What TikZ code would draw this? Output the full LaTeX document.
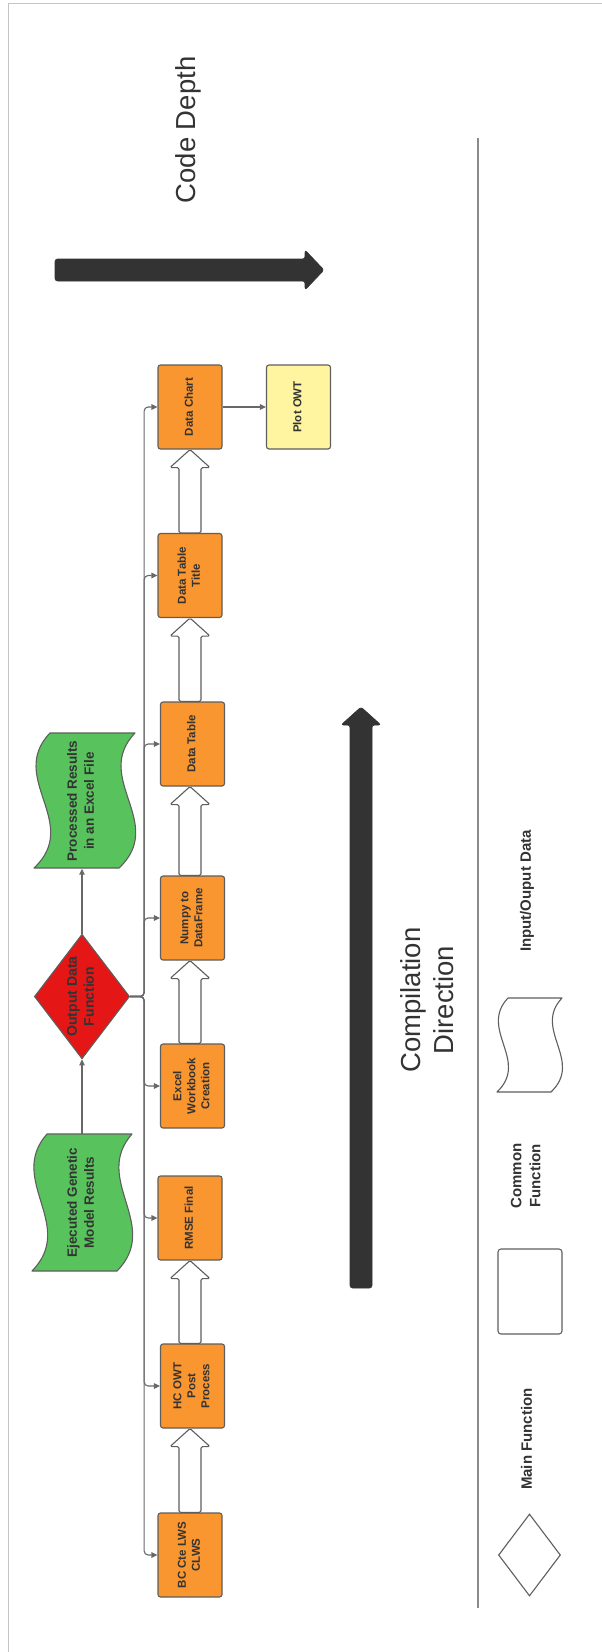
\documentclass[tikz,border=0pt]{standalone}
\usepackage{fontspec}
\setmainfont{Liberation Sans}
\usetikzlibrary{arrows.meta,shapes.geometric,calc}

\definecolor{boxorange}{HTML}{F9962F}
\definecolor{docgreen}{HTML}{58C35C}
\definecolor{fnred}{HTML}{E51616}
\definecolor{plotyellow}{HTML}{FFF5A0}
\definecolor{edge}{HTML}{5E5E5E}
\definecolor{ink}{HTML}{333333}
\definecolor{wire}{HTML}{686868}
\definecolor{framegray}{HTML}{C4C4C4}
\definecolor{rulegray}{HTML}{8A8A8A}

% vertical (bottom-to-top) multi-line label
\newcommand\vtext[1]{\rotatebox{90}{\begin{tabular}{@{}c@{}}#1\end{tabular}}}

% punched-tape outline: style, top-left x, top-left y, width, height, slant
\newcommand\tapeshape[6]{%
  \draw[#1] (#2,#3) -- ({#2+#4},#3)
    .. controls ({#2+#4-2.7*#6},{#3+#5/3}) and ({#2+#4+2*#6},{#3+2*#5/3}) .. ({#2+#4-#6},{#3+#5})
    -- ({#2-#6},{#3+#5})
    .. controls ({#2+2*#6},{#3+2*#5/3}) and ({#2-2.7*#6},{#3+#5/3}) .. (#2,#3) -- cycle;}

% hollow block arrow from the top of #1 up to the bottom of #2
\newcommand\hollowarrow[2]{%
  \path (axis |- #1.north) coordinate (lo) (axis |- #2.south) coordinate (hi);
  \draw[hollow] ([xshift=-11pt]lo) -- ([xshift=-11pt,yshift=-18pt]hi)
    -- ([xshift=-20pt,yshift=-18pt]hi) -- (hi) -- ([xshift=20pt,yshift=-18pt]hi)
    -- ([xshift=11pt,yshift=-18pt]hi) -- ([xshift=11pt]lo) -- cycle;}

\tikzset{
  fnbox/.style={draw=edge, line width=1.1pt, rounded corners=2.5pt, fill=boxorange,
    minimum width=64pt, minimum height=84pt, inner sep=0pt, text=ink,
    font=\bfseries\fontsize{11.5}{14}\selectfont},
  plotbox/.style={fnbox, fill=plotyellow},
  doctext/.style={inner sep=0pt, text=ink, font=\bfseries\fontsize{13.5}{17}\selectfont},
  docshape/.style={draw=edge, line width=1.1pt, fill=docgreen, line join=round},
  legshape/.style={draw=edge, line width=1.1pt, fill=white, line join=round},
  mainfn/.style={diamond, draw=edge, line width=1.1pt, fill=fnred, inner sep=0pt,
    aspect=0.764, minimum width=94pt, minimum height=123pt, text=ink,
    font=\bfseries\fontsize{14}{17}\selectfont},
  wire/.style={draw=wire, line width=1.1pt, rounded corners=4pt,
    -{Triangle[length=6pt,width=5.5pt]}},
  hollow/.style={draw=edge, line width=1.1pt, fill=white, rounded corners=1.5pt, line join=round},
  bigarrow/.style={fill=ink, draw=ink, line width=0.6pt, rounded corners=2.5pt},
  bigtext/.style={inner sep=0pt, text=ink, font=\fontsize{27.5}{33}\selectfont},
  legtext/.style={inner sep=0pt, text=ink, font=\bfseries\fontsize{15}{19}\selectfont},
}

\begin{document}
\begin{tikzpicture}[x=1pt,y=-1pt]
\useasboundingbox (0,0) rectangle (602,1652);

% page frame and separator rule
\draw[framegray, line width=1.8pt] (602,3.5) -- (8.5,3.5) -- (8.5,1652);
\draw[rulegray, line width=1.2pt] (478,138) -- (478,1608);

% code depth
\node[bigtext] (codedepth) at (188,130) {\rotatebox{90}{Code Depth}};
\draw[bigarrow] (55,259) -- (305,259) -- (305,250) -- (324,270) -- (305,290) -- (305,281) -- (55,281) -- cycle;

% compilation direction
\draw[bigarrow] (350,1288) -- (350,725) -- (341,725) -- (361,707) -- (381,725) -- (372,725) -- (372,1288) -- cycle;
\node[bigtext] (compdir) at (430,1000) {\vtext{Compilation\\Direction}};

% chain of functions
\coordinate (axis) at (190,0);
\node[fnbox] (chart)  at (190,407)    {\vtext{Data Chart}};
\node[fnbox] (title)  at (190,575.5)  {\vtext{Data Table\\Title}};
\node[fnbox] (table)  at (192.5,744)  {\vtext{Data Table}};
\node[fnbox] (numpy)  at (192.5,918)  {\vtext{Numpy to\\DataFrame}};
\node[fnbox] (excel)  at (192.5,1086) {\vtext{Excel\\Workbook\\Creation}};
\node[fnbox] (rmse)   at (190,1218)   {\vtext{RMSE Final}};
\node[fnbox] (hcowt)  at (192.5,1386) {\vtext{HC OWT\\Post\\Process}};
\node[fnbox] (bccte)  at (190,1555)   {\vtext{BC Cte LWS\\CLWS}};
\node[plotbox] (plot) at (298.5,407)  {\vtext{Plot OWT}};

\hollowarrow{bccte}{hcowt}
\hollowarrow{hcowt}{rmse}
\hollowarrow{excel}{numpy}
\hollowarrow{numpy}{table}
\hollowarrow{table}{title}
\hollowarrow{title}{chart}

% main function and its data
\node[mainfn] (outfn) at (82,996.5) {\vtext{Output Data\\Function}};

\tapeshape{docshape}{50}{733}{85}{135}{16}
\node[doctext, minimum width=100pt, minimum height=135pt] (procres) at (82,801) {\vtext{Processed Results\\in an Excel File}};
\tapeshape{docshape}{47}{1134}{85}{137}{15}
\node[doctext, minimum width=100pt, minimum height=137pt] (ejres) at (82,1202.5) {\vtext{Ejecuted Genetic\\Model Results}};

\draw[wire] (ejres.north -| outfn.south) -- (outfn.south);
\draw[wire] (outfn.north) -- (outfn.north |- procres.south);

% calls from the main function
\foreach \f in {chart,title,table,numpy,excel,rmse,hcowt,bccte}
  \draw[wire] (outfn.east) -- ++(14,0) |- (\f.west);
\draw[wire] (chart.east) -- (plot.west);

% legend
\tapeshape{legshape}{508}{998}{54}{94}{11}
\node[legtext] (legio) at (527,891) {\vtext{Input/Ouput Data}};
\draw[legshape, rounded corners=3pt] (498,1249) rectangle (562,1334);
\node[legtext] (legcommon) at (527,1176) {\vtext{Common\\Function}};
\node[diamond, draw=edge, line width=1.1pt, fill=white, inner sep=0pt, aspect=0.76,
  minimum width=62pt, minimum height=82pt] (legdiamond) at (529.5,1555) {};
\node[legtext] (legmain) at (528,1439) {\vtext{Main Function}};
\end{tikzpicture}
\end{document}
